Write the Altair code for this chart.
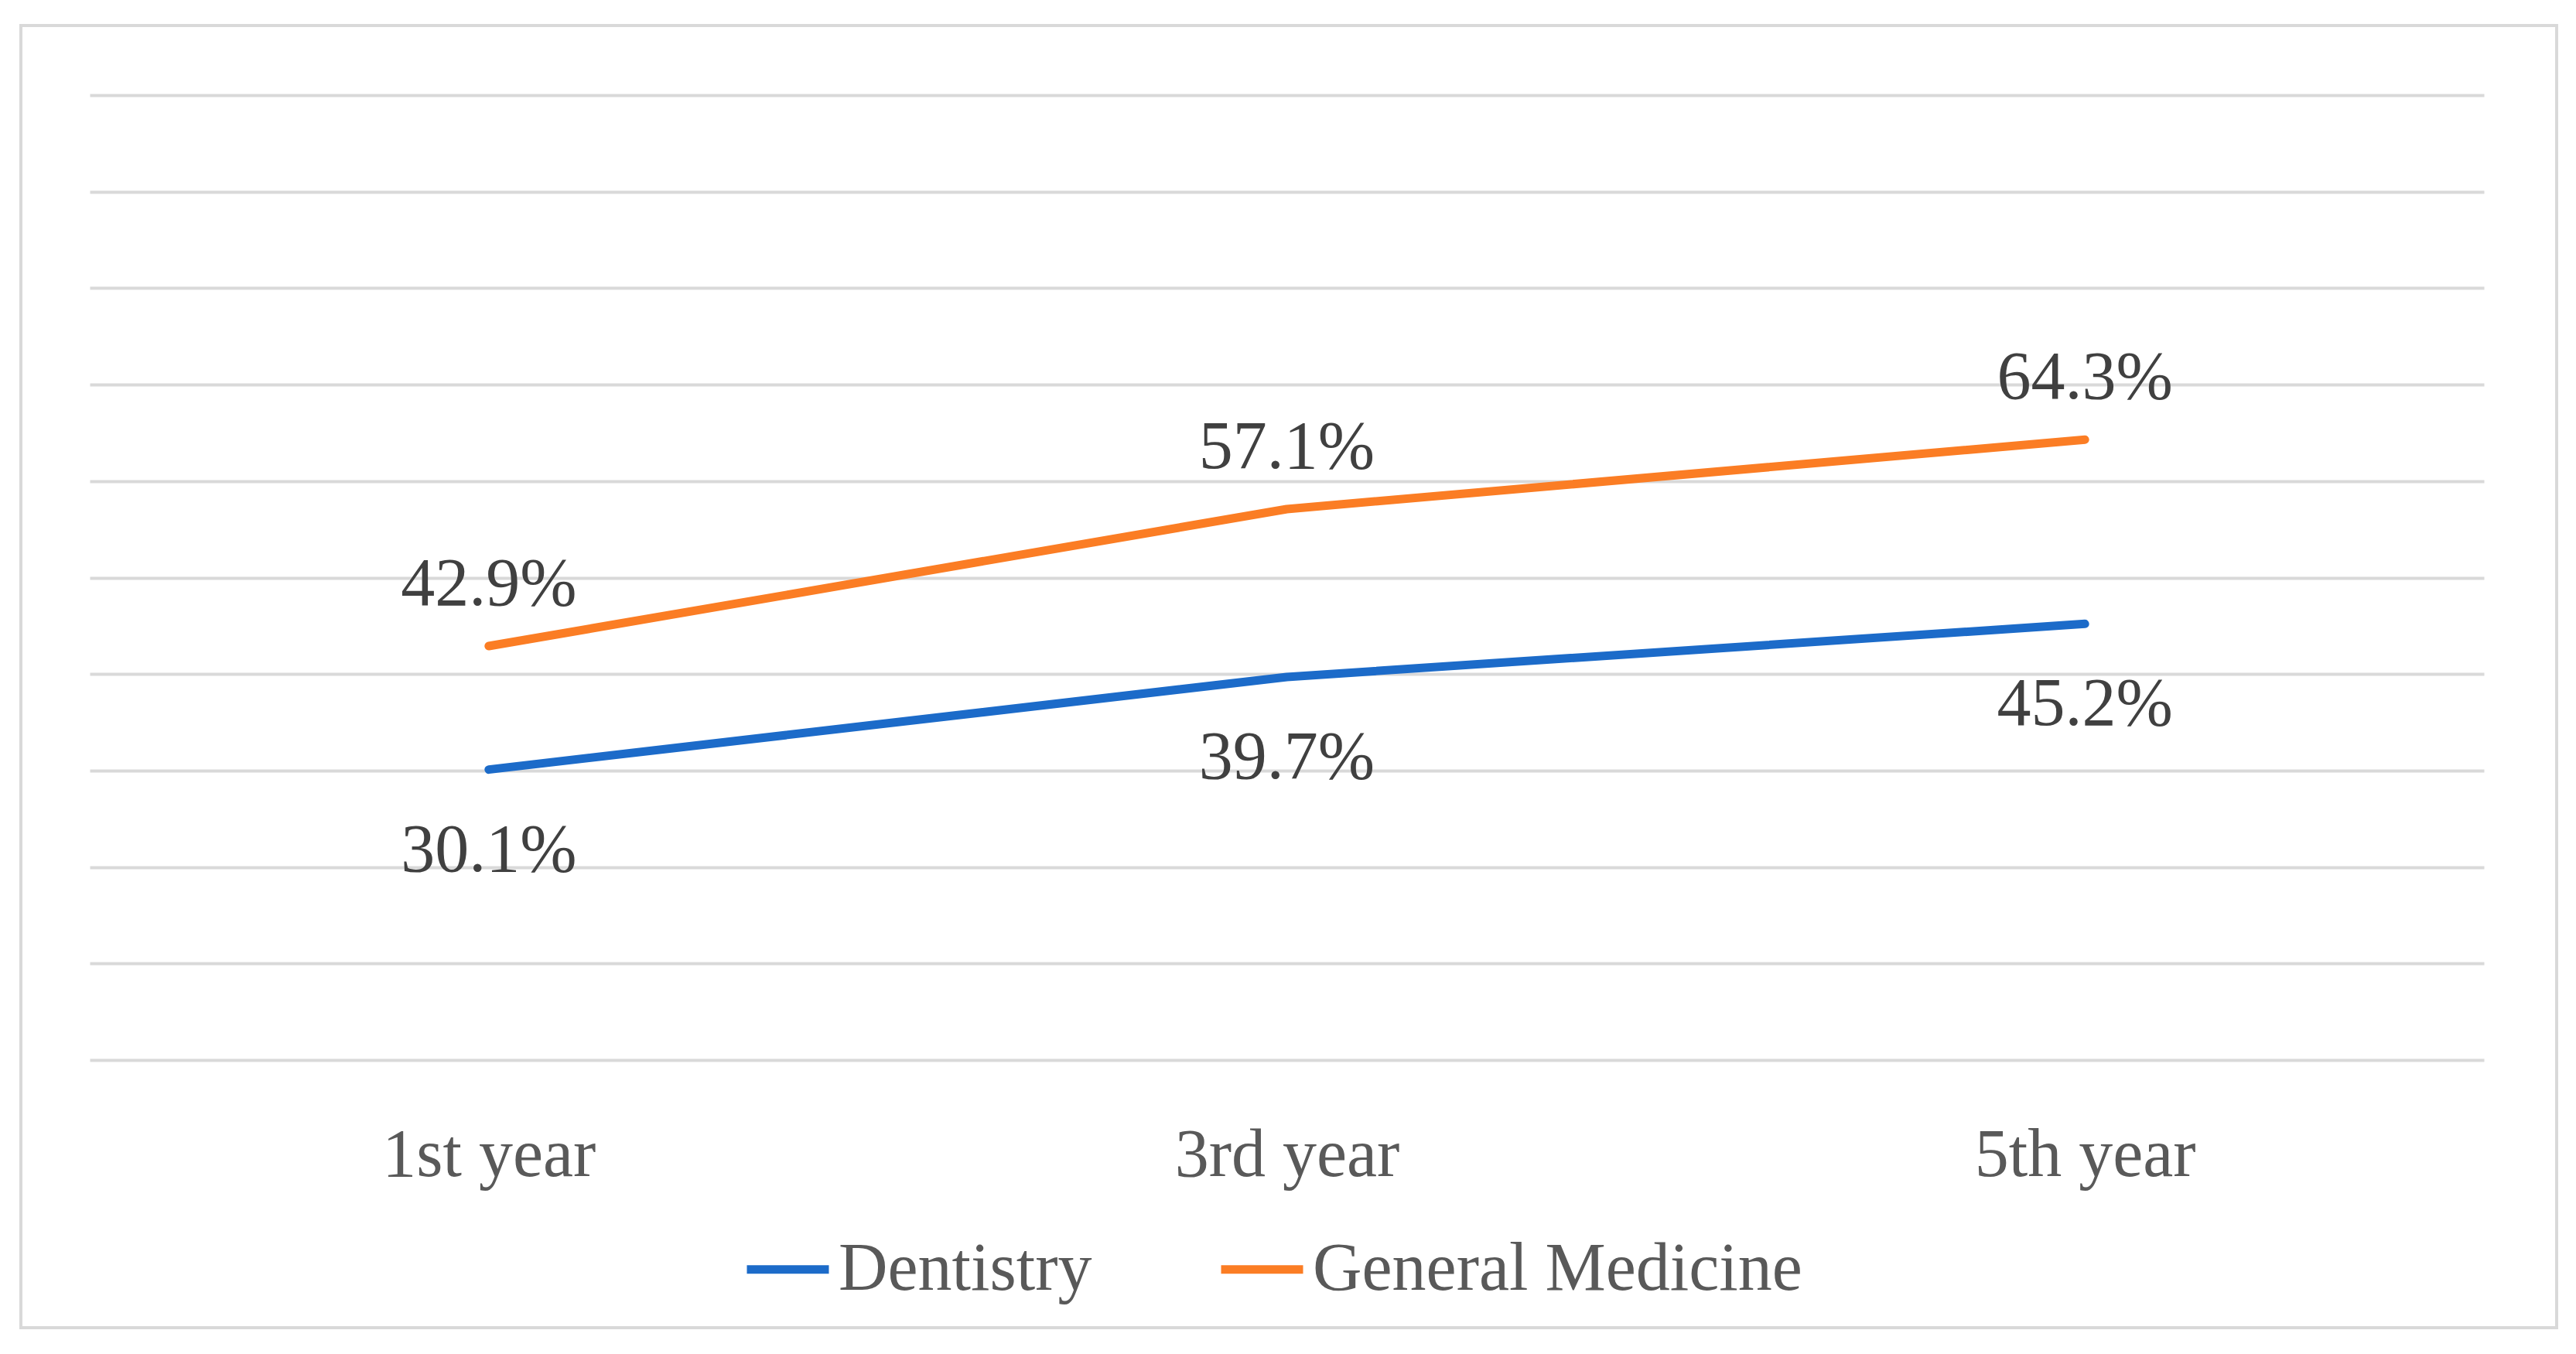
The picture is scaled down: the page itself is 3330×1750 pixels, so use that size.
import altair as alt
import pandas as pd

years = ["1st year", "3rd year", "5th year"]
dentistry = [30.1, 39.7, 45.2]
general_medicine = [42.9, 57.1, 64.3]
series_names = ["Dentistry", "General Medicine"]
colors = ["#1c6bc9", "#fb7d24"]
grid_values = [0, 10, 20, 30, 40, 50, 60, 70, 80, 90, 100]

rows = []
for y, v in zip(years, dentistry):
    rows.append({"year": y, "value": v, "series": "Dentistry", "label": f"{v:.1f}%"})
for y, v in zip(years, general_medicine):
    rows.append({"year": y, "value": v, "series": "General Medicine", "label": f"{v:.1f}%"})
df = pd.DataFrame(rows)

FONT = "Liberation Serif"
FS = 88

x_enc = alt.X("year:N", sort=years,
              scale=alt.Scale(type="point", padding=0.5),
              axis=alt.Axis(title=None, labelAngle=0, grid=False, ticks=False, tickSize=0,
                            domain=False, labelFont=FONT, labelFontSize=FS,
                            labelColor="#595959", labelBaseline="alphabetic",
                            labelPadding=149, labelLimit=1000))
y_enc = alt.Y("value:Q", scale=alt.Scale(domain=[0, 100], nice=False, zero=True),
              axis=alt.Axis(title=None, labels=False, ticks=False, domain=False,
                            grid=True, values=grid_values, gridColor="#d9d9d9",
                            gridWidth=4))

border = alt.Chart(pd.DataFrame({"b": [0]})).mark_rect(
    fill="white", fillOpacity=0, stroke="#d9d9d9", strokeWidth=4
).encode(x=alt.value(-89), x2=alt.value(3189), y=alt.value(-90), y2=alt.value(1593))

base = alt.Chart(df)

lines = base.mark_line(strokeWidth=11, strokeCap="round", strokeJoin="round").encode(
    x=x_enc, y=y_enc,
    color=alt.Color("series:N", sort=series_names,
                    scale=alt.Scale(domain=series_names, range=colors),
                    legend=alt.Legend(title=None, orient="none", legendX=844, legendY=1459,
                                      direction="horizontal", symbolType="stroke",
                                      symbolSize=11236, symbolStrokeWidth=11,
                                      labelFont=FONT, labelFontSize=FS,
                                      labelColor="#595959", labelOffset=7,
                                      columnPadding=144, padding=0,
                                      labelLimit=1000))
)

labels_above = base.transform_filter(alt.datum.series == "General Medicine").mark_text(
    font=FONT, fontSize=FS, color="#404040", baseline="alphabetic", align="center", dy=-53
).encode(x=alt.X("year:N", sort=years), y="value:Q", text="label:N")

labels_below = base.transform_filter(alt.datum.series == "Dentistry").mark_text(
    font=FONT, fontSize=FS, color="#404040", baseline="alphabetic", align="center", dy=131
).encode(x=alt.X("year:N", sort=years), y="value:Q", text="label:N")

chart = alt.layer(border, lines, labels_above, labels_below).properties(
    width=3095, height=1247,
    autosize=alt.AutoSizeParams(type="none"),
    padding={"left": 108, "top": 115, "right": 110, "bottom": 370},
    background="white",
).configure_view(stroke=None)

chart.save("out.html", embed_options={"renderer": "svg", "actions": False})
